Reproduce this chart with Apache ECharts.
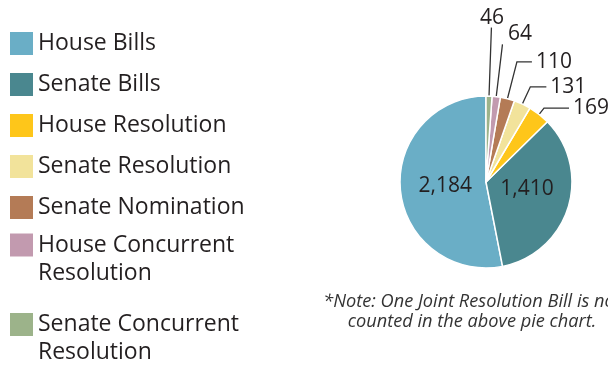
<!DOCTYPE html>
<html>
<head>
<meta charset="utf-8">
<script src="https://cdn.jsdelivr.net/npm/echarts@6/dist/echarts.min.js"></script>
<style>
  html, body { margin: 0; padding: 0; background: #fff; }
  #chart { width: 608px; height: 366px; }
</style>
</head>
<body>
<div id="chart"></div>
<script>
const categories = ['House Bills', 'Senate Bills', 'House Resolution', 'Senate Resolution',
  'Senate Nomination', 'House Concurrent Resolution', 'Senate Concurrent Resolution'];
const counts = [2184, 1410, 169, 131, 110, 64, 46];
const palette = ['#6aaec6', '#4a878f', '#fec61a', '#f2e39b', '#b47b56', '#c29aaf', '#9cb38a'];
const note = '*Note: One Joint Resolution Bill is not\ncounted in the above pie chart.';

const FONT = 'Open Sans';
const INK = '#231f20';

// label tweaks for each slice (inside for the two big ones)
const labelCfg = [
  { inside: true, dx: 5, dy: 0 },
  { inside: true, dx: -3, dy: -7 },
  { len: 8, len2: 25 },
  { len: 19, len2: 16 },
  { len: 38, len2: 15 },
  { len: 52, len2: 0.5, dist: 0 },
  { len: 68, len2: 0.5, dist: 0 }
];

const pieData = categories.map((name, i) => {
  const c = labelCfg[i];
  const item = { name: name, value: counts[i] };
  if (c.inside) {
    item.label = { position: 'inside' };
    item.labelLine = { show: false };
  } else {
    item.label = { position: 'outside', distanceToLabelLine: c.dist == null ? 4 : c.dist };
    item.labelLine = { show: true, length: c.len, length2: c.len2 };
  }
  return item;
});

const legendBase = {
  orient: 'vertical',
  left: 10,
  padding: 0,
  itemWidth: 23,
  itemHeight: 23,
  icon: 'rect',
  selectedMode: false,
  itemStyle: { borderWidth: 0 }
};
const legendText = { fontFamily: FONT, fontSize: 23, color: INK };
// two-line names: a blank first line keeps the icon level with the first text line
const wrapName = n => '\n' + n.replace(' Resolution', '\nResolution');

const chart = echarts.init(document.getElementById('chart'));
chart.setOption({
  animation: false,
  color: palette,
  legend: [
    Object.assign({}, legendBase, {
      top: 32,
      itemGap: 18,
      data: categories.slice(0, 5),
      textStyle: Object.assign({ lineHeight: 23 }, legendText)
    }),
    Object.assign({}, legendBase, {
      top: 203,
      data: [categories[5]],
      formatter: wrapName,
      textStyle: Object.assign({ lineHeight: 28 }, legendText)
    }),
    Object.assign({}, legendBase, {
      top: 282.5,
      data: [categories[6]],
      formatter: wrapName,
      textStyle: Object.assign({ lineHeight: 28 }, legendText)
    })
  ],
  graphic: [
    {
      type: 'text',
      x: 472,
      y: 292,
      style: {
        text: note,
        align: 'center',
        verticalAlign: 'top',
        fontFamily: FONT,
        fontStyle: 'italic',
        fontSize: 18.2,
        lineHeight: 20,
        fill: '#333'
      }
    }
  ],
  series: [
    {
      type: 'pie',
      center: [486, 182],
      radius: 86,
      startAngle: 90,
      clockwise: false,
      avoidLabelOverlap: false,
      itemStyle: { borderColor: '#fff', borderWidth: 1.5 },
      label: {
        fontFamily: FONT,
        fontSize: 21,
        color: INK,
        formatter: p => p.value.toLocaleString('en-US')
      },
      labelLine: {
        lineStyle: { color: '#333', width: 1.3 }
      },
      labelLayout: function (params) {
        const c = labelCfg[params.dataIndex];
        if (c.inside) return { dx: c.dx, dy: c.dy };
        const pts = params.labelLinePoints;
        if (!pts) return {};
        // start the leader a little inside the slice, as in the original
        const dx = pts[1][0] - pts[0][0];
        const dy = pts[1][1] - pts[0][1];
        const l = Math.hypot(dx, dy) || 1;
        const start = [pts[0][0] - dx / l * 7, pts[0][1] - dy / l * 7];
        const out = { labelLinePoints: [start, pts[1], pts[2]] };
        if (params.dataIndex === 6) {
          out.align = 'center';
          out.verticalAlign = 'bottom';
        }
        if (params.dataIndex === 5) {
          out.align = 'left';
          out.verticalAlign = 'bottom';
          out.dx = 5;
        }
        return out;
      },
      emphasis: { disabled: true },
      data: pieData
    }
  ]
});
</script>
</body>
</html>
